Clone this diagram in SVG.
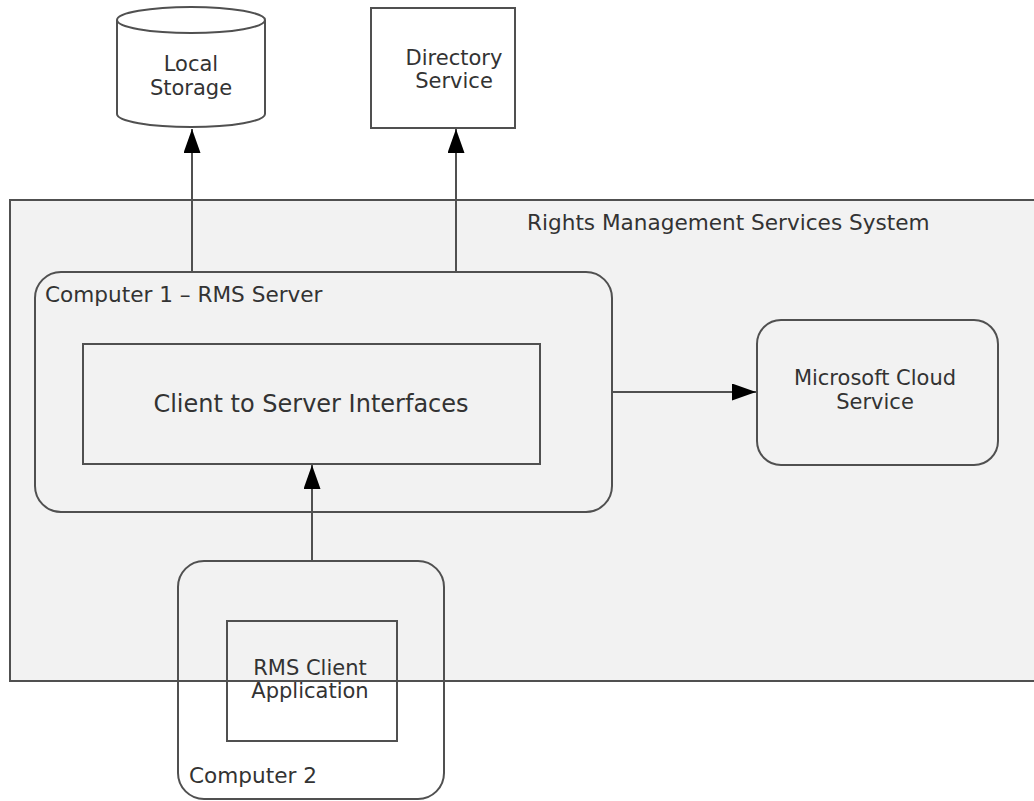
<svg xmlns="http://www.w3.org/2000/svg" width="1034" height="801" viewBox="0 0 1034 801">
  <style>
    .shape { fill: none; stroke: #505050; stroke-width: 2; }
    .panel { fill: #f2f2f2; stroke: #505050; stroke-width: 2; }
    .white { fill: #ffffff; stroke: #505050; stroke-width: 2; }
    .edge { fill: none; stroke: #505050; stroke-width: 2; }
    text { font-family: "DejaVu Sans", Verdana, sans-serif; font-size: 21px; fill: #333333; }
    .mid { text-anchor: middle; }
    .title { font-size: 21.6px; }
    .big { font-size: 24px; }
  </style>
  <defs>
    <marker id="arrow" markerUnits="userSpaceOnUse" markerWidth="26" markerHeight="18" refX="24" refY="8.5" orient="auto">
      <path d="M0,0 L24,8.5 L0,17 z" fill="#000000"/>
    </marker>
  </defs>

  <!-- outer system boundary -->
  <g id="rms-system">
    <rect class="panel" x="10" y="200" width="1040" height="481"/>
    <text class="title" x="527" y="230">Rights Management Services System</text>
  </g>

  <g id="local-storage">
    <path class="white" d="M117,20 L117,114 A74,13 0 0 0 265,114 L265,20 A74,13 0 0 0 117,20 Z"/>
    <path class="shape" d="M117,20 A74,13 0 0 0 265,20"/>
    <text class="mid" x="191" y="71">Local</text>
    <text class="mid" x="191" y="95">Storage</text>
  </g>

  <g id="directory-service">
    <rect class="white" x="371" y="8" width="144" height="120"/>
    <text class="mid" x="454" y="65">Directory</text>
    <text class="mid" x="454" y="88">Service</text>
  </g>

  <g id="computer1">
    <rect class="panel" x="35" y="272" width="577" height="240" rx="26" ry="26"/>
    <text class="title" x="45" y="302">Computer 1 – RMS Server</text>
  </g>

  <g id="client-server-interfaces">
    <rect class="shape" x="83" y="344" width="457" height="120"/>
    <text class="mid big" x="311" y="412">Client to Server Interfaces</text>
  </g>

  <g id="cloud-service">
    <rect class="panel" x="757" y="320" width="241" height="145" rx="24" ry="24"/>
    <text class="mid" x="875" y="385">Microsoft Cloud</text>
    <text class="mid" x="875" y="409">Service</text>
  </g>

  <g id="computer2">
    <rect class="shape" x="178" y="561" width="266" height="238" rx="26" ry="26"/>
    <text class="title" x="189" y="783">Computer 2</text>
  </g>

  <g id="rms-client-app">
    <rect class="shape" x="227" y="621" width="170" height="120"/>
    <text class="mid" x="310" y="675">RMS Client</text>
    <text class="mid" x="310" y="698">Application</text>
  </g>

  <g id="connectors">
    <line class="edge" x1="192" y1="272" x2="192" y2="129" marker-end="url(#arrow)"/>
    <line class="edge" x1="456" y1="272" x2="456" y2="129" marker-end="url(#arrow)"/>
    <line class="edge" x1="612" y1="392" x2="756" y2="392" marker-end="url(#arrow)"/>
    <line class="edge" x1="312" y1="561" x2="312" y2="465" marker-end="url(#arrow)"/>
  </g>
</svg>
